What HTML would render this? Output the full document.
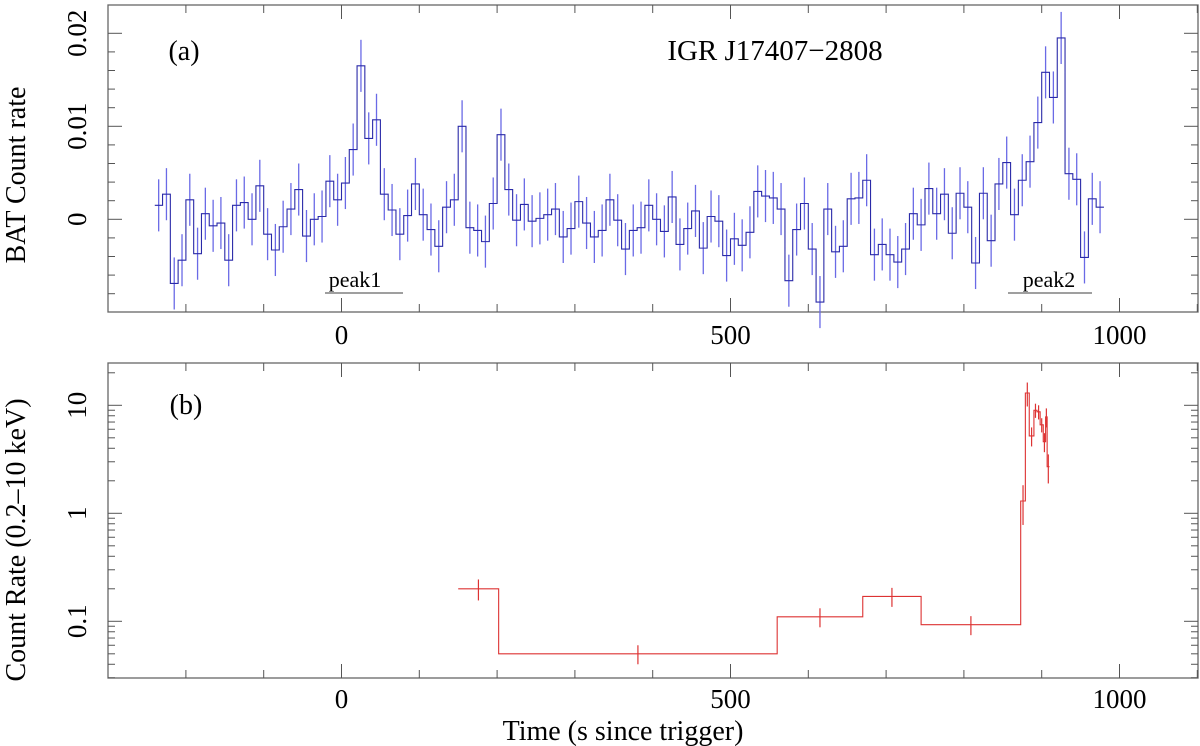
<!DOCTYPE html>
<html><head><meta charset="utf-8"><style>
html,body{margin:0;padding:0;background:#fff;}
svg{display:block;font-family:"Liberation Serif",serif;}
</style></head><body>
<svg id="chart" width="1200" height="746" viewBox="0 0 1200 746"></svg>
<script>
// ---- Panel (a) BAT data ----
const batStart = -235;      // first bin centre (s)
const batWidth = 10;        // bin width (s)
const batRates = [0.0015,0.0027,-0.0069,-0.0044,0.0021,-0.0037,0.0006,-0.0007,-0.0004,-0.0044,
0.0015,0.0018,0,0.0036,-0.0016,-0.0033,-0.0008,0.0011,0.0032,-0.0018,
0,0.0003,0.0041,0.0021,0.0039,0.0075,0.0165,0.0087,0.0107,0.0027,
0.001,-0.0016,0.0004,0.0038,0.0005,-0.0011,-0.0029,0.0013,0.0021,0.0100,
-0.0009,-0.0012,-0.0024,0.0017,0.0091,0.0032,-0.0001,0.0016,-0.0002,0.0001,
0.0005,0.0011,-0.0019,-0.001,0.0019,-0.0004,-0.0019,-0.0012,0.0021,-0.0001,
-0.0032,-0.0012,-0.0009,0.0015,0,-0.0013,0.0024,-0.0027,-0.001,0.0009,
-0.0031,0.0003,-0.0002,-0.0039,-0.0021,-0.0028,-0.0014,0.003,0.0025,0.0023,
0.0011,-0.0066,-0.0011,0.0017,-0.0032,-0.0089,0.0011,-0.0035,-0.0029,0.0022,
0.0023,0.0042,-0.0038,-0.0027,-0.0038,-0.0046,-0.0032,0.0006,-0.0006,0.0033,
0.0006,0.0027,-0.0015,0.0028,0.0013,-0.0047,0.0028,-0.0023,0.0038,0.0061,
0.0005,0.0042,0.0062,0.0104,0.0158,0.0131,0.0195,0.0049,0.0043,-0.0041,
0.0022,0.0013];
const batErr = 0.0028;
const batYTicks = [0, 0.01, 0.02];
const batYLabels = ["0", "0.01", "0.02"];

// ---- Panel (b) XRT data ----
const xrtStart = [150,202,560,670,745,873,879,884,890,894,898,902,905,907];
const xrtEnd   = [202,560,670,745,873,879,884,890,894,898,902,905,907,910];
const xrtRate  = [0.2,0.05,0.11,0.17,0.093,1.3,13,5.2,9,8.7,6.6,4.6,7.8,2.7];
const xrtErrFrac = [0.22,0.2,0.2,0.2,0.2,0.4,0.25,0.2,0.15,0.15,0.15,0.2,0.2,0.3];
const xrtYTicks = [0.1, 1, 10];
const xrtYLabels = ["0.1", "1", "10"];

const xTicks = [0, 500, 1000];
const xLabels = ["0", "500", "1000"];

// ---- geometry ----
const L = 108, R = 1198;
const A = {top:5, bot:312};
const B = {top:363, bot:678};
const X = t => 341.5 + 0.778 * t;
const YA = v => 219.3 - v * 9300;
const YB = v => 513.3 - 108 * Math.log10(v);

const svg = document.getElementById('chart');
const NS = 'http://www.w3.org/2000/svg';
function mk(tag, attrs, parent) {
  const e = document.createElementNS(NS, tag);
  for (const k in attrs) e.setAttribute(k, attrs[k]);
  (parent || svg).appendChild(e);
  return e;
}
function line(x1,y1,x2,y2,stroke,w,parent){return mk('line',{x1,y1,x2,y2,stroke,'stroke-width':w},parent);}
function text(x,y,s,size,anchor,rot,parent){
  const t = mk('text',{x,y,'font-size':size,'text-anchor':anchor||'middle',fill:'#000'},parent);
  if(rot) t.setAttribute('transform',`rotate(-90 ${x} ${y})`);
  t.textContent = s; return t;
}

function frame(P, name){
  const g = mk('g',{});
  
  
  mk('rect',{x:L,y:P.top,width:R-L,height:P.bot-P.top,fill:'none',stroke:'#666','stroke-width':1.3},g);
  for(let t=-200;t<=1100;t+=100){
    const major = t%500===0; const len = major?14:8;
    line(X(t),P.bot,X(t),P.bot-len,'#555',1,g);
    line(X(t),P.top,X(t),P.top+len,'#555',1,g);
  }
  return g;
}

// ===== Panel A =====
const ga = frame(A,'panel-a-frame');
for(let v=-0.008; v<=0.022; v+=0.002){
  const vv = Math.round(v*1000)/1000;
  const major = Math.abs(vv*100 - Math.round(vv*100))<1e-6;
  const len = major?14:7;
  line(L,YA(vv),L+len,YA(vv),'#555',1,ga);
  line(R,YA(vv),R-len,YA(vv),'#555',1,ga);
}
batYTicks.forEach((v,i)=>{
  const t = text(86,YA(v),batYLabels[i],27,'middle',true);
  
  
});
xTicks.forEach((v,i)=>{
  const t = text(X(v),344,xLabels[i],27,'middle',false);
  
  
});
// step + error bars
const gs = mk('g',{});


let d='';
batRates.forEach((v,i)=>{
  const c = batStart + i*batWidth;
  const x1 = X(c-batWidth/2), x2 = X(c+batWidth/2), y = YA(v);
  d += (i===0?`M${x1},${y}`:`L${x1},${y}`) + `L${x2},${y}`;
  const eb = line(X(c),YA(v-batErr),X(c),YA(v+batErr),'#6a6ae6',1.3,gs);
  
  
});
const pA = mk('path',{d,fill:'none',stroke:'#2a2aa8','stroke-width':1.1},gs);



const ta = text(184,60,'(a)',28,'middle');  
const tt = text(775,60,'IGR J17407\u22122808',29,'middle');  
const p1 = text(355,287,'peak1',22,'middle');  
const p1l = line(325,293,403,293,'#666',1.2);  
const p2 = text(1049,287,'peak2',22,'middle');  
const p2l = line(1008,293,1092,293,'#666',1.2);  
const yla = text(25,175,'BAT Count rate',28,'middle',true);  

// ===== Panel B =====
const gb = frame(B,'panel-b-frame');
for(let dec=-2; dec<=1; dec++){
  for(let m=1;m<=9;m++){
    const v = m*Math.pow(10,dec); const y = YB(v);
    if(y<B.top||y>B.bot) continue;
    const len = m===1?14:7;
    line(L,y,L+len,y,'#555',1,gb);
    line(R,y,R-len,y,'#555',1,gb);
  }
}
xrtYTicks.forEach((v,i)=>{
  const t = text(86,YB(v),xrtYLabels[i],27,'middle',true);
  
  
});
xTicks.forEach((v,i)=>{
  const t = text(X(v),708,xLabels[i],27,'middle',false);
  
  
});
const gr = mk('g',{});


let dB='';
xrtRate.forEach((v,i)=>{
  const x1=X(xrtStart[i]), x2=X(xrtEnd[i]), y=YB(v);
  dB += (i===0?`M${x1},${y}`:`L${x1},${y}`) + `L${x2},${y}`;
  const xc = X((xrtStart[i]+xrtEnd[i])/2);
  const eb = line(xc,YB(v*(1-xrtErrFrac[i])),xc,YB(v*(1+xrtErrFrac[i])),'#dd3333',1.2,gr);
  
  
});
const pB = mk('path',{d:dB,fill:'none',stroke:'#dd3333','stroke-width':1.1},gr);



const tb = text(186,414,'(b)',28,'middle');  
const ylb = text(25,540,'Count Rate (0.2\u201310 keV)',28,'middle',true);  
const xl = text(623,740,'Time (s since trigger)',28,'middle');  
</script>
</body></html>
